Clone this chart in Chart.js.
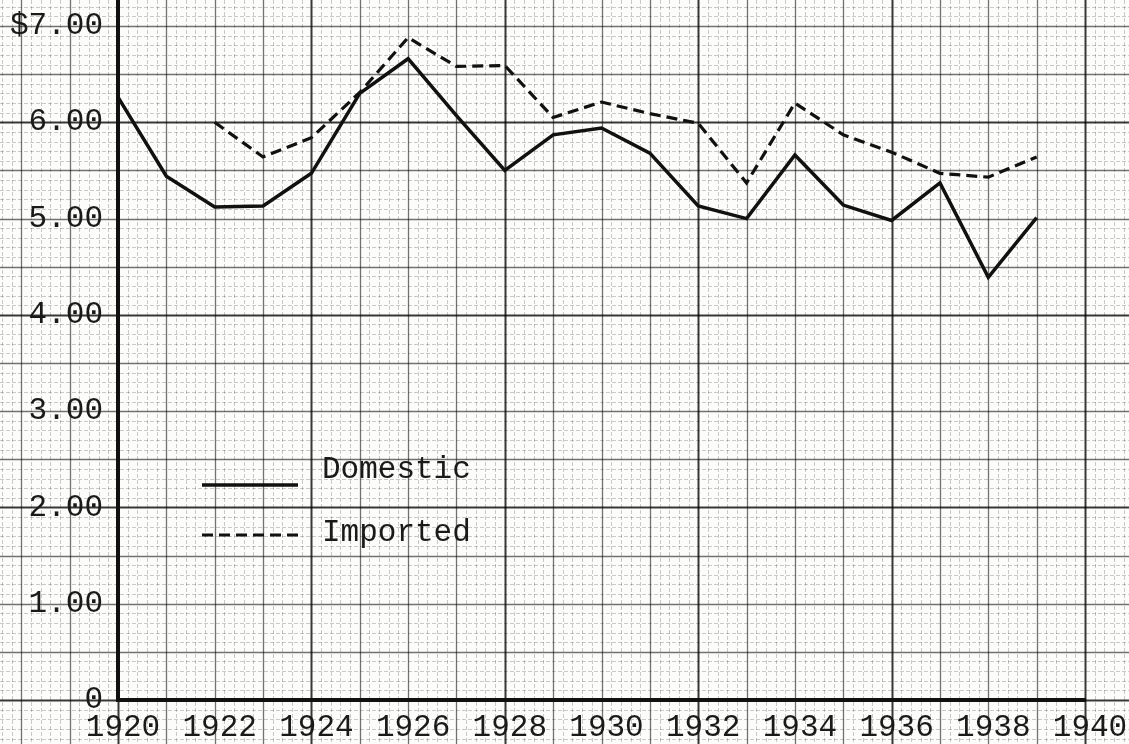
<!DOCTYPE html>
<html>
<head>
<meta charset="utf-8">
<script src="https://cdn.jsdelivr.net/npm/chart.js@4.4.1/dist/chart.umd.min.js"></script>
<style>
  body { margin: 0; background: #fbfbf8; }
  #wrap { width: 1129px; height: 744px; position: relative; }
</style>
</head>
<body>
<div id="wrap"><canvas id="chart"></canvas></div>
<script>
// values
const years = [1920,1921,1922,1923,1924,1925,1926,1927,1928,1929,1930,1931,1932,1933,1934,1935,1936,1937,1938,1939];
const domestic = [6.26,5.44,5.12,5.13,5.47,6.30,6.66,6.07,5.50,5.87,5.94,5.68,5.13,5.00,5.66,5.14,4.98,5.37,4.39,5.01];
const imported = [null,null,6.00,5.64,5.84,6.31,6.88,6.58,6.59,6.05,6.21,6.09,5.99,5.37,6.20,5.87,5.69,5.47,5.43,5.64];
const seriesNames = ['Domestic','Imported'];
const xTicks = [1920,1922,1924,1926,1928,1930,1932,1934,1936,1938,1940];
const yTicks = [0,1,2,3,4,5,6,7];
const yTickLabels = ['0','1.00','2.00','3.00','4.00','5.00','6.00','$7.00'];

const FONT = '"Liberation Mono", "DejaVu Sans Mono", monospace';
const INK = '#1a1a1a';

// graph paper drawn over the whole canvas through the scales
const paper = {
  id: 'paper',
  beforeDraw(chart) {
    const {ctx, width, height} = chart;
    const x = chart.scales.x, y = chart.scales.y;
    ctx.save();
    ctx.fillStyle = '#fcfcfa';
    ctx.fillRect(0, 0, width, height);

    function style(level) {
      if (level == 2) { ctx.strokeStyle = 'rgba(0,0,0,0.78)'; ctx.lineWidth = 2; ctx.setLineDash([]); }
      else if (level == 1) { ctx.strokeStyle = 'rgba(0,0,0,0.55)'; ctx.lineWidth = 1.3; ctx.setLineDash([]); }
      else { ctx.strokeStyle = 'rgba(0,0,0,0.2)'; ctx.lineWidth = 1; ctx.setLineDash([4, 2]); }
    }

    // vertical lines every 0.2 year
    let a = x.getValueForPixel(0), b = x.getValueForPixel(width);
    for (let i = Math.ceil(a * 5); i <= Math.floor(b * 5); i++) {
      const lvl = i % 20 == 0 ? 2 : (i % 5 == 0 ? 1 : 0);
      const px = Math.round(x.getPixelForValue(i / 5)) + 0.5;
      style(lvl);
      ctx.beginPath(); ctx.moveTo(px, 0); ctx.lineTo(px, height); ctx.stroke();
    }
    // horizontal lines every 10 cents
    a = y.getValueForPixel(height); b = y.getValueForPixel(0);
    for (let i = Math.ceil(a * 10); i <= Math.floor(b * 10); i++) {
      const lvl = i % 20 == 0 ? 2 : (i % 5 == 0 ? 1 : 0);
      const py = Math.round(y.getPixelForValue(i / 10)) + 0.5;
      style(lvl);
      ctx.beginPath(); ctx.moveTo(0, py); ctx.lineTo(width, py); ctx.stroke();
    }
    ctx.restore();
  }
};

// legend written inside the plot, like the typed original
const typedLegend = {
  id: 'typedLegend',
  afterDraw(chart) {
    const {ctx, chartArea} = chart;
    const left = chartArea.left + 84;
    const rows = [485, 535];
    const textY = [470, 533];
    ctx.save();
    chart.data.datasets.forEach((ds, i) => {
      ctx.strokeStyle = ds.borderColor;
      ctx.lineWidth = ds.borderWidth;
      ctx.setLineDash(ds.borderDash || []);
      ctx.beginPath();
      ctx.moveTo(left, rows[i]);
      ctx.lineTo(left + 96, rows[i]);
      ctx.stroke();
      ctx.setLineDash([]);
      ctx.fillStyle = INK;
      ctx.font = '31px ' + FONT;
      ctx.textBaseline = 'middle';
      ctx.fillText(ds.label, left + 120, textY[i]);
    });
    ctx.restore();
  }
};

const chart = new Chart(document.getElementById('chart'), {
  type: 'line',
  data: {
    datasets: [{
      label: seriesNames[0],
      data: years.map((yr, i) => ({x: yr, y: domestic[i]})),
      borderColor: '#111',
      borderWidth: 3.5,
      pointRadius: 0,
      tension: 0
    }, {
      label: seriesNames[1],
      data: years.map((yr, i) => ({x: yr, y: imported[i]})),
      borderColor: '#111',
      borderWidth: 3.2,
      borderDash: [11, 6],
      pointRadius: 0,
      tension: 0,
      spanGaps: false
    }]
  },
  options: {
    responsive: true,
    maintainAspectRatio: false,
    animation: false,
    layout: { padding: { top: 0, right: 44, bottom: 0, left: 0 } },
    plugins: { legend: { display: false }, tooltip: { enabled: false } },
    scales: {
      x: {
        type: 'linear',
        min: 1920,
        max: 1940,
        afterBuildTicks: s => { s.ticks = xTicks.map(v => ({value: v})); },
        afterFit: s => { s.height = 44; s.paddingLeft = 0; s.paddingRight = 0; },
        grid: { display: false },
        border: { display: true, color: '#111', width: 4 },
        ticks: {
          callback: v => String(v),
          font: { family: FONT, size: 31 },
          color: INK,
          padding: 1,
          labelOffset: 5,
          maxRotation: 0,
          autoSkip: false
        }
      },
      y: {
        type: 'linear',
        min: 0,
        max: 7.27,
        afterBuildTicks: s => { s.ticks = yTicks.map(v => ({value: v})); },
        afterFit: s => { s.width = 118; s.paddingTop = 0; s.paddingBottom = 0; },
        grid: { display: false },
        border: { display: true, color: '#111', width: 4 },
        ticks: {
          callback: (v, i) => yTickLabels[i],
          font: { family: FONT, size: 31 },
          color: INK,
          padding: 7
        }
      }
    }
  },
  plugins: [paper, typedLegend]
});
</script>
</body>
</html>
